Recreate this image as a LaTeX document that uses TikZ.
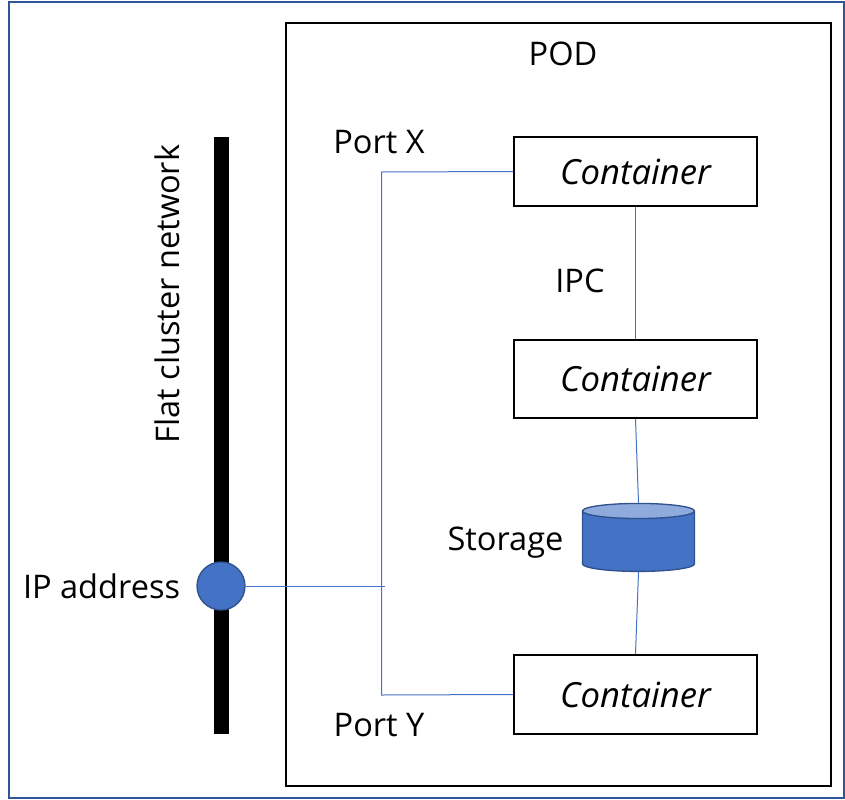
\documentclass[tikz,border=0pt]{standalone}
\usepackage{fontspec}
\setmainfont{Open Sans}
\usetikzlibrary{shapes.geometric,positioning}
\definecolor{frameblue}{HTML}{2F5597}
\definecolor{fillblue}{HTML}{4472C4}
\definecolor{edgeblue}{HTML}{2F528F}
\definecolor{toplight}{HTML}{8FAADC}

\begin{document}
\begin{tikzpicture}[
  x=0.75pt, y=-0.75pt,
  font=\fontsize{24.4}{28}\selectfont,
  frame/.style={rectangle, draw=frameblue, line width=1.7pt, minimum width=626.6pt, minimum height=597pt, anchor=north west},
  pod/.style={rectangle, draw=black, line width=1.5pt, minimum width=408.75pt, minimum height=571.5pt, anchor=north west},
  box/.style={rectangle, draw=black, line width=1.5pt, minimum width=182.25pt, align=center, font=\fontsize{26}{30}\selectfont\itshape},
  bar/.style={rectangle, fill=black, minimum width=11.25pt, minimum height=447.75pt, inner sep=0pt},
  dot/.style={circle, draw=edgeblue, line width=1pt, fill=fillblue, minimum size=36pt, inner sep=0pt},
  store/.style={cylinder, shape border rotate=90, aspect=1.7, draw=edgeblue, line width=1pt,
                cylinder uses custom fill, cylinder body fill=fillblue, cylinder end fill=toplight,
                minimum width=84pt, minimum height=51pt},
  link/.style={draw=fillblue, line width=0.75pt},
  lbl/.style={inner sep=0pt},
]
\useasboundingbox (0,0) rectangle (845,799);

\node[frame] (outer) at (8,1) {};
\node[pod] (pod) at (284.8,22.5) {};
\node[lbl] (podlbl) at (563,54) {POD};

\node[bar] (net) at (221.5,435.5) {};
\node[lbl, rotate=90] (netlbl) at (167,294) {Flat cluster network};
\node[dot] (ip) at (221,586) {};
\node[lbl, left=12pt of ip] (iplbl) {IP address};

\node[box, minimum height=51.75pt] (c1) at (635.5,171.5) {Container};
\node[box, minimum height=58.5pt] (c2) at (635.5,379) {Container};
\node[box, minimum height=59.25pt] (c3) at (635.5,694.5) {Container};
\node[store] (db) at (638.5,543) {};

\node[lbl] (xlbl) at (379,142) {Port X};
\node[lbl] (ylbl) at (379,725) {Port Y};
\node[lbl] (ipclbl) at (580,281) {IPC};
\node[lbl] (dblbl) at (505.5,543) {Storage};

\coordinate (tap) at (385,586);
\coordinate (bustop) at (381.5,172);
\coordinate (busbot) at (381.5,695);

\draw[link] (c1.west) -- (bustop) -- (busbot) -- (c3.west);
\draw[link] (ip) -- (tap);
\draw[link] (c1.south) -- (c2.north);
\draw[link] (c2.south) -- (db.north);
\draw[link] (db.south) -- (c3.north);

\end{tikzpicture}
\end{document}
